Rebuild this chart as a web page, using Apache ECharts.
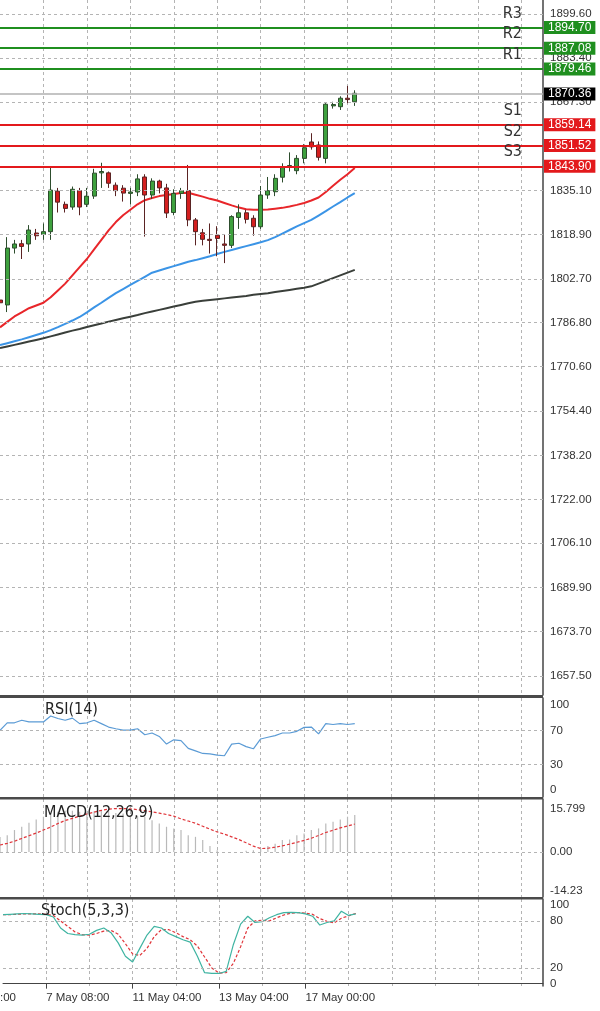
<!DOCTYPE html>
<html>
<head>
<meta charset="UTF-8">
<title>Gold H4</title>
<script src="https://cdn.jsdelivr.net/npm/echarts@6/dist/echarts.min.js"></script>
<style>
  html, body { margin: 0; padding: 0; background: #fff; }
  #chart { width: 600px; height: 1011px; }
</style>
</head>
<body>
<div id="chart"></div>
<script>
  // candles: open, close, low, high
  const opens  = [1795,1793.2,1814,1815.6,1815.5,1819.5,1819,1820,1834.8,1830,1829,1835,1830,1833,1841.5,1841.5,1837,1835.9,1834,1834.5,1840,1833.4,1838.5,1836,1827,1834,1835,1824.3,1819.6,1817.2,1818.7,1815.5,1815,1825.2,1826.9,1824.9,1821.8,1833.4,1834.6,1839.9,1843.5,1842.3,1846.8,1852.8,1851.7,1846.8,1866,1865.7,1868.8,1867.5];
  const closes = [1794,1814,1815.5,1814.6,1820.6,1818.5,1820,1835.2,1830.8,1828.5,1835.5,1829,1833,1841.4,1842,1837.7,1835,1834.1,1834.5,1839.3,1833.4,1838.5,1836,1826.8,1834,1835,1824.3,1820,1817.2,1816.8,1817.5,1815,1825.5,1826.9,1824.5,1821.8,1833.4,1835,1839.5,1843.5,1844.2,1846.8,1850.7,1851,1847.2,1866.6,1866.5,1868.8,1868.3,1870.6];
  const lows   = [1791,1790.6,1812,1810,1812.6,1817,1817,1817,1827,1827,1828,1826,1829,1832,1836,1836,1833,1831,1830,1833,1818.2,1832,1834,1825,1826,1832,1822,1815,1815,1812,1811,1808.5,1814,1821,1823,1818.5,1821,1832,1833,1838,1842,1841,1845,1850,1846,1845,1865,1864.5,1867,1866];
  const highs  = [1797,1818,1817,1817,1822.4,1821,1823,1843.3,1836,1831,1836.5,1836,1836,1843,1845.2,1842,1838,1837,1836,1841,1841,1839.5,1839,1837.5,1835.5,1836,1844.4,1825,1821,1823,1822,1819,1826,1830,1828,1826,1836.7,1840,1841,1845,1849,1848,1852,1856,1853,1867,1867.5,1869.5,1873.3,1871.7];

  const ma20  = [1785,1787,1789,1790.5,1792,1793,1794,1796,1798.5,1801,1804,1807,1810,1813.5,1817,1820.5,1823.5,1826,1828,1830,1831.5,1832.3,1833,1833.4,1833.8,1834.1,1834.2,1833.5,1832.8,1832,1831.4,1830.5,1829.6,1828.8,1828.2,1828,1828,1828.1,1828.4,1828.7,1829.2,1829.8,1830.5,1831.4,1832.5,1834.5,1836.8,1839,1841,1843.3];
  const ma50  = [1778.5,1779.2,1779.9,1780.6,1781.4,1782.2,1783,1784,1785.1,1786.3,1787.5,1788.8,1790.5,1792.3,1794,1795.8,1797.5,1799,1800.5,1802,1803.5,1805,1805.8,1806.6,1807.4,1808.2,1809,1809.6,1810.3,1811,1811.8,1812.6,1813.3,1814,1814.7,1815.4,1816.1,1816.9,1818,1819.3,1820.6,1821.9,1823.1,1824.3,1825.9,1827.5,1829.2,1830.8,1832.5,1834.1];
  const ma100 = [1777.4,1778,1778.6,1779.2,1779.8,1780.4,1781,1781.7,1782.4,1783.1,1783.8,1784.4,1785.1,1785.8,1786.4,1787.1,1787.7,1788.3,1788.9,1789.5,1790.2,1790.8,1791.4,1792,1792.6,1793.2,1793.8,1794.4,1794.7,1795,1795.3,1795.6,1795.9,1796.2,1796.5,1796.9,1797.2,1797.5,1797.9,1798.3,1798.7,1799.1,1799.5,1800,1801,1802,1803,1804,1805,1806];

  const rsi = [70,79,79,82,80,80,80,87,84,82,84.5,78,79,82,78,74,72,70.5,70.5,72,65,67,63,54,59,58,49,46,43,42.5,41,40.3,54,55,51,48.5,60,62,64,67,67,69,73.6,74,66,78,77,78,77,78];
  const macdHist = [5.5,6.2,8.1,9.3,10.8,12,13,14.2,14.8,15.2,15.2,14.8,14.8,15,15.2,15,14.4,14.2,13.6,13.2,13,11.7,10.5,9.3,8.7,8.1,6.2,5.6,4.4,2.2,0.7,0,0,0,0.5,0.7,1.3,2.2,3.1,4.4,4.6,6.2,6.8,8.1,8.7,10.5,11.1,12,13,13.6];
  const macdSignal = [2.6,3.2,4,5,6,7,8.1,9.2,10.5,11.6,12.4,13.2,14,14.7,15.3,15.8,16,16,15.9,15.6,15.2,14.8,14.3,13.8,13.2,12.2,11.4,10.6,9.5,8.4,7.4,6.6,5.6,4.6,3.4,2.2,1.3,1.4,1.8,2.3,2.9,3.6,4.3,5.1,6.1,7.2,8,8.9,9.6,10.3];
  const stochMain = [88,88.5,89,89.5,89,88.5,88,85,71,64,62.5,62,63,68,71,65,52,35,27.6,45,62,73,71,64,60,56,53,35,14,13,13,15.6,50,76,86,78,79,84,88,90.6,91,90.5,89,86,74.8,78,80,92.5,87,89];
  const stochSignal = [88,88,88.5,89,89,89,88.5,87,80,73,66,62.5,62,64,67,68,63,51,38,36,45,60,69,69,65,60,56,48,34,20,13.5,14,26,47,71,80,81,80,84,87.6,90,90.7,90,88.5,83,79.6,77.6,83.5,86.5,89.5];

  const slotCount = 76;
  const timeLabels = { 6: '7 May 08:00', 18: '11 May 04:00', 30: '13 May 04:00', 42: '17 May 00:00' };

  const priceTicks = [1899.60,1883.40,1867.30,1851.20,1835.10,1818.90,1802.70,1786.80,1770.60,1754.40,1738.20,1722.00,1706.10,1689.90,1673.70,1657.50];
  const levelNames  = ['R3','R2','R1','S1','S2','S3'];
  const levelValues = [1894.70,1887.08,1879.46,1859.14,1851.52,1843.90];
  const lastPrice = 1870.36;

  const rsiTicks = [100,70,30,0];
  const rsiGrid = [70,30];
  const macdTicks = [15.799,0,-14.23];
  const macdTickLabels = ['15.799','0.00','-14.23'];
  const stochTicks = [100,80,20,0];
  const stochGrid = [80,20];

  const categories = [];
  for (let i = 0; i < slotCount; i++) categories.push(timeLabels[i] || '');
  const candles = opens.map((o, i) => [o, closes[i], lows[i], highs[i]]);

  const font = 'Liberation Sans';
  const gridDash = { color: '#b4b4b4', type: [3, 3], width: 1 };
  const grids = [
    { left: -1.5, right: 57, top: 0, height: 695 },
    { left: -1.5, right: 57, top: 698, height: 99 },
    { left: -1.5, right: 57, top: 799, height: 98 },
    { left: -1.5, right: 57, top: 899, height: 87 }
  ];

  const xAxes = grids.map((g, gi) => ({
    type: 'category', gridIndex: gi, data: categories, boundaryGap: false,
    axisLine: { show: gi === 3, lineStyle: { color: '#444' } },
    axisTick: { show: gi === 3, interval: (i) => timeLabels[i] !== undefined, lineStyle: { color: '#444' } },
    axisLabel: gi === 3 ? { interval: 0, align: 'left', color: '#333', fontSize: 11.5, fontFamily: font, margin: 6 } : { show: false },
    splitLine: { show: true, interval: (i) => i > 0 && i % 6 === 0, lineStyle: gridDash }
  }));

  const yBase = {
    position: 'right', scale: true,
    axisLine: { show: true, lineStyle: { color: '#444', width: 1.5 } },
    axisTick: { show: false },
    splitLine: { show: false }
  };
  const labelStyle = { color: '#333', fontSize: 11.5, fontFamily: font, margin: 7 };
  const yAxes = [
    Object.assign({}, yBase, { gridIndex: 0, min: 1650.55, max: 1904.72,
      axisLabel: Object.assign({}, labelStyle, { customValues: priceTicks, formatter: (v) => v.toFixed(2) }) }),
    Object.assign({}, yBase, { gridIndex: 1, min: -8.1, max: 108.1,
      axisLabel: Object.assign({}, labelStyle, { customValues: rsiTicks }) }),
    Object.assign({}, yBase, { gridIndex: 2, min: -16.5, max: 19.5,
      axisLabel: Object.assign({}, labelStyle, { customValues: macdTicks,
        formatter: (v) => macdTickLabels[macdTicks.indexOf(v)] !== undefined ? macdTickLabels[macdTicks.indexOf(v)] : String(v) }) }),
    Object.assign({}, yBase, { gridIndex: 3, min: -3, max: 108,
      axisLabel: Object.assign({}, labelStyle, { customValues: stochTicks }) })
  ];

  function gridLines(values) {
    return { silent: true, symbol: 'none', label: { show: false }, lineStyle: gridDash,
      data: values.map(v => ({ yAxis: v })) };
  }

  const levelLines = [];
  levelValues.forEach((v, i) => {
    const c = levelNames[i][0] === 'R' ? '#1f8f1f' : '#e3191c';
    levelLines.push({ yAxis: v, lineStyle: { color: c, width: 2, type: 'solid' },
      label: { show: true, position: 'end', formatter: v.toFixed(2), backgroundColor: c, color: '#fff',
        fontSize: 12, fontFamily: font, padding: [1, 4, 0, 4], distance: 1 } });
    levelLines.push({ yAxis: v, lineStyle: { color: 'rgba(0,0,0,0)', width: 0 },
      label: { show: true, position: 'insideEndTop', formatter: levelNames[i], color: '#333',
        fontSize: 16, fontFamily: 'DejaVu Sans Condensed', padding: [0, 16, 1, 0] } });
  });
  levelLines.push({ yAxis: lastPrice, lineStyle: { color: '#b0b0b0', width: 1.5, type: 'solid' },
    label: { show: true, position: 'end', formatter: lastPrice.toFixed(2), backgroundColor: '#000', color: '#fff',
      fontSize: 12, fontFamily: font, padding: [1, 4, 0, 4], distance: 1 } });

  const series = [
    { type: 'line', xAxisIndex: 0, yAxisIndex: 0, data: [], markLine: gridLines(priceTicks) },
    { type: 'line', name: 'MA100', xAxisIndex: 0, yAxisIndex: 0, data: ma100, showSymbol: false,
      lineStyle: { color: '#3a3f3a', width: 2 }, z: 3 },
    { type: 'line', name: 'MA50', xAxisIndex: 0, yAxisIndex: 0, data: ma50, showSymbol: false,
      lineStyle: { color: '#3b94e6', width: 2 }, z: 3 },
    { type: 'line', name: 'MA20', xAxisIndex: 0, yAxisIndex: 0, data: ma20, showSymbol: false,
      lineStyle: { color: '#e8262a', width: 2 }, z: 3 },
    { type: 'candlestick', xAxisIndex: 0, yAxisIndex: 0, data: candles, barWidth: 4.5, z: 4,
      itemStyle: { color: '#3ea13e', color0: '#d41f1f', borderColor: '#2d4d2d', borderColor0: '#5a2323', borderWidth: 1 } },
    { type: 'line', xAxisIndex: 0, yAxisIndex: 0, data: [], z: 5,
      markLine: { silent: true, symbol: 'none', data: levelLines } },

    { type: 'line', xAxisIndex: 1, yAxisIndex: 1, data: rsi, showSymbol: false,
      lineStyle: { color: '#5b9bd5', width: 1.2 }, markLine: gridLines(rsiGrid) },

    { type: 'bar', xAxisIndex: 2, yAxisIndex: 2, data: macdHist, barWidth: 1.2,
      itemStyle: { color: '#b9b9b9' }, markLine: gridLines([0]) },
    { type: 'line', xAxisIndex: 2, yAxisIndex: 2, data: macdSignal, showSymbol: false,
      lineStyle: { color: '#e0353a', width: 1.2, type: [3, 2] } },

    { type: 'line', xAxisIndex: 3, yAxisIndex: 3, data: stochSignal, showSymbol: false,
      lineStyle: { color: '#e0353a', width: 1.2, type: [3, 2] }, markLine: gridLines(stochGrid) },
    { type: 'line', xAxisIndex: 3, yAxisIndex: 3, data: stochMain, showSymbol: false,
      lineStyle: { color: '#3fb4a2', width: 1.2 } }
  ];

  const titleStyle = { fill: '#222', fontSize: 16, fontFamily: 'DejaVu Sans Condensed' };
  const chart = echarts.init(document.getElementById('chart'), null, { renderer: 'canvas' });
  chart.setOption({
    animation: false,
    backgroundColor: '#fff',
    grid: grids,
    xAxis: xAxes,
    yAxis: yAxes,
    series: series,
    graphic: [
      { type: 'rect', shape: { x: 0, y: 695, width: 543, height: 3 }, style: { fill: '#4a4a4a' }, z: 10 },
      { type: 'rect', shape: { x: 0, y: 797, width: 543, height: 2.5 }, style: { fill: '#4a4a4a' }, z: 10 },
      { type: 'rect', shape: { x: 0, y: 897, width: 543, height: 2.5 }, style: { fill: '#4a4a4a' }, z: 10 },
      { type: 'text', left: 45, top: 702, style: Object.assign({ text: 'RSI(14)' }, titleStyle), z: 10 },
      { type: 'text', left: 44, top: 805, style: Object.assign({ text: 'MACD(12,26,9)' }, titleStyle), z: 10 },
      { type: 'text', left: 41, top: 903, style: Object.assign({ text: 'Stoch(5,3,3)' }, titleStyle), z: 10 },
      { type: 'text', left: 0, top: 992, style: { text: ':00', fill: '#333', fontSize: 11.5, fontFamily: font }, z: 10 }
    ]
  });
</script>
</body>
</html>
